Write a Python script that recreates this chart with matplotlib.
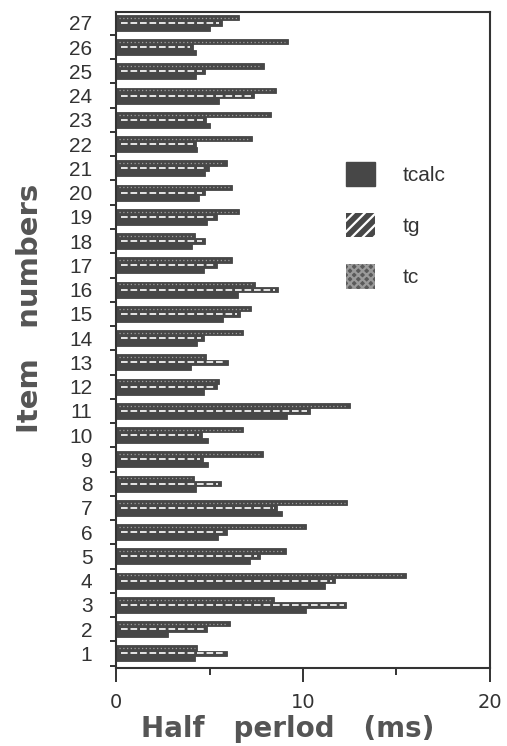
import numpy as np
import matplotlib
matplotlib.use('Agg')
import matplotlib.pyplot as plt
from matplotlib.patches import Patch

# half period per item (ms)
items = np.arange(1, 28)
tc = [4.35, 6.1, 8.45, 15.5, 9.1, 10.15, 12.38, 4.17, 7.84, 6.77, 12.5, 5.49, 4.81, 6.81,
      7.22, 7.45, 6.18, 4.21, 6.56, 6.2, 5.92, 7.25, 8.27, 8.54, 7.91, 9.2, 6.6]
tg = [5.92, 4.88, 12.33, 11.71, 7.68, 5.95, 8.6, 5.6, 4.66, 4.58, 10.39, 5.38, 5.99, 4.71,
      6.63, 8.64, 5.38, 4.74, 5.42, 4.76, 4.95, 4.25, 4.8, 7.38, 4.76, 4.1, 5.67]
tcalc = [4.24, 2.8, 10.14, 11.18, 7.17, 5.47, 8.86, 4.28, 4.94, 4.94, 9.15, 4.71, 4.03, 4.31,
         5.74, 6.54, 4.72, 4.06, 4.85, 4.46, 4.76, 4.35, 5.0, 5.53, 4.26, 4.3, 5.03]

bar_col = '#474747'
ink = '#333333'
h = 0.22

fig = plt.figure(figsize=(5.07, 7.46), dpi=100)
ax = fig.add_axes([0.229, 0.1046, 0.737, 0.8794])

for y, vals in ((items + h, tc), (items, tg), (items - h, tcalc)):
    ax.barh(y, vals, height=h, color=bar_col, edgecolor=bar_col, linewidth=0.6)

# patterns running along the tc and tg bars
ax.hlines(items + h, 0.15, np.array(tc) - 0.15, colors='#a0a0a0', linestyles=(0, (1, 2)), lw=0.9)
ax.hlines(items, 0.25, np.array(tg) - 0.15, colors='white', linestyles=(0, (4, 1.7)), lw=1.2)

ax.set_xlim(0, 20)
ax.set_ylim(0.4, 27.45)

ax.set_xticks([0, 10, 20])
ax.set_xticklabels(['0', '10', '20'], fontsize=14, color=ink, family='DejaVu Sans')
ax.set_xticks([5, 15], minor=True)
ax.tick_params(axis='x', which='major', direction='out', length=10, width=1.4, color=ink, pad=8)
ax.tick_params(axis='x', which='minor', direction='out', length=5, width=1.4, color=ink)

ax.set_yticks(items)
ax.set_yticklabels([str(i) for i in items], fontsize=15, color=ink, family='Liberation Sans')
ax.set_yticks(np.arange(0.5, 27, 1.0), minor=True)
ax.tick_params(axis='y', which='major', length=0, pad=17)
ax.tick_params(axis='y', which='minor', direction='out', length=4, width=1.4, color=ink)

for s in ax.spines.values():
    s.set_linewidth(1.5)
    s.set_color(ink)

fig.text(0.059, 0.586, 'Item   numbers', rotation=90, ha='center', va='center',
         fontsize=21, fontweight='bold', color='#555555', family='DejaVu Sans')
fig.text(0.567, 0.0125, 'Half   perlod   (ms)', ha='center', va='baseline',
         fontsize=20, fontweight='bold', color='#555555', family='DejaVu Sans')

plt.rcParams['hatch.linewidth'] = 1.6
handles = [
    Patch(facecolor=bar_col, edgecolor=bar_col, label='tcalc'),
    Patch(facecolor=bar_col, edgecolor='white', hatch='///', linewidth=0, label='tg'),
    Patch(facecolor='#5a5a5a', edgecolor='#9a9a9a', hatch='xxxx', linewidth=0, label='tc'),
]
ax.legend(handles=handles, loc='upper left', bbox_to_anchor=(0.615, 0.771),
          frameon=False, borderpad=0, borderaxespad=0, handlelength=1.4,
          handleheight=1.4, handletextpad=1.3, labelspacing=1.3,
          prop={'family': 'Liberation Sans', 'size': 15}, labelcolor=ink)

fig.savefig('out.png', dpi=100)
